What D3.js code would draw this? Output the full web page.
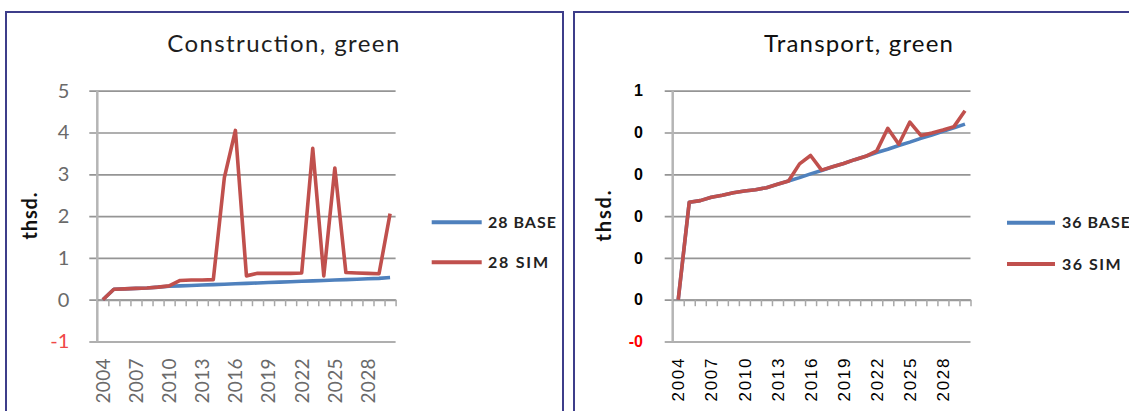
<!DOCTYPE html>
<html>
<head>
<meta charset="utf-8">
<script src="https://cdn.jsdelivr.net/npm/d3@7"></script>
<style>
  body { margin: 0; background: #fff; overflow: hidden; }
  svg { display: block; }
</style>
</head>
<body>
<div id="chart"></div>
<script>
// values
const years = [2004, 2005, 2006, 2007, 2008, 2009, 2010, 2011, 2012, 2013, 2014, 2015, 2016, 2017,
    2018, 2019, 2020, 2021, 2022, 2023, 2024, 2025, 2026, 2027, 2028, 2029, 2030];
const yearLabels = ["2004", "2007", "2010", "2013", "2016", "2019", "2022", "2025", "2028"];

const constructionBase = [0, 0.25, 0.26, 0.27, 0.28, 0.30, 0.32, 0.33, 0.34, 0.35, 0.36, 0.37, 0.38, 0.39,
    0.40, 0.41, 0.42, 0.43, 0.44, 0.45, 0.46, 0.47, 0.48, 0.49, 0.50, 0.51, 0.53];
const constructionSim = [0, 0.25, 0.26, 0.27, 0.28, 0.30, 0.33, 0.46, 0.47, 0.47, 0.48, 2.92, 4.05, 0.57,
    0.63, 0.63, 0.63, 0.63, 0.64, 3.62, 0.57, 3.15, 0.65, 0.64, 0.63, 0.62, 2.06];

const transportBase = [0, 0.233, 0.237, 0.245, 0.25, 0.256, 0.26, 0.263, 0.268, 0.276, 0.284, 0.292, 0.301, 0.309,
    0.318, 0.326, 0.335, 0.343, 0.352, 0.36, 0.369, 0.377, 0.386, 0.394, 0.403, 0.411, 0.42];
const transportSim = [0, 0.233, 0.237, 0.245, 0.25, 0.256, 0.26, 0.263, 0.268, 0.276, 0.284, 0.325, 0.345, 0.31,
    0.318, 0.326, 0.335, 0.343, 0.356, 0.41, 0.372, 0.425, 0.393, 0.399, 0.406, 0.414, 0.452];

const constructionTicks = [-1, 0, 1, 2, 3, 4, 5];
const constructionTickLabels = ["-1", "0", "1", "2", "3", "4", "5"];
const transportTicks = [-0.1, 0, 0.1, 0.2, 0.3, 0.4, 0.5];
const transportTickLabels = ["-0", "0", "0", "0", "0", "0", "1"];

const blue = "#4f81bd", red = "#c0504d";

const panels = [
    {
        title: "Construction, green", base: constructionBase, sim: constructionSim,
        ticks: constructionTicks, tickLabels: constructionTickLabels,
        names: ["28 BASE", "28 SIM"],
        box: [6, 12, 557, 420],
        plot: { x0: 97.3, x1: 395.6, y0: 90.7, y1: 341.5 },
        titleX: 283.3, titleLen: 232, titleColor: "#1e1e1e",
        yTitleX: 36.5, yTitleLen: 47,
        labelFont: "Lato, sans-serif", yLabelSize: 20, yLabelWeight: "normal", yLabelColor: "#6a6a6a",
        negColor: "#f04848", yPad: 20,
        xLabelSize: 19, xLabelWeight: "normal", xLabelColor: "#6a6a6a", xLabelLen: 45,
        legendX: 431.7, legendW: 50, legendTextX: 488, legendY: [222.3, 262.3], legendLen: [68, 60]
    },
    {
        title: "Transport, green", base: transportBase, sim: transportSim,
        ticks: transportTicks, tickLabels: transportTickLabels,
        names: ["36 BASE", "36 SIM"],
        box: [574, 12, 568, 420],
        plot: { x0: 672.7, x1: 970.5, y0: 90.7, y1: 341.5 },
        titleX: 858.5, titleLen: 189, titleColor: "#111",
        yTitleX: 611, yTitleLen: 51,
        labelFont: "'Liberation Sans', Arial, sans-serif", yLabelSize: 16, yLabelWeight: "bold", yLabelColor: "#000",
        negColor: "#ff0000", yPad: 21.7,
        xLabelSize: 17, xLabelWeight: "normal", xLabelColor: "#000", xLabelLen: 43,
        legendX: 1007, legendW: 48, legendTextX: 1062, legendY: [222.7, 264], legendLen: [68, 58.6]
    }
];

const svg = d3.select("#chart")
    .append("svg")
    .attr("width", 1129)
    .attr("height", 411);

panels.forEach(p => drawPanel(p));

function drawPanel(p) {
    const g = svg.append("g");

    // chart area border
    g.append("rect")
        .attr("x", p.box[0]).attr("y", p.box[1])
        .attr("width", p.box[2]).attr("height", p.box[3])
        .attr("fill", "#fff")
        .attr("stroke", "#3d3d8a")
        .attr("stroke-width", 2);

    g.append("text")
        .attr("x", p.titleX).attr("y", 52)
        .attr("text-anchor", "middle")
        .attr("textLength", p.titleLen)
        .attr("lengthAdjust", "spacing")
        .style("font-family", "Lato, sans-serif")
        .style("font-size", "24px")
        .style("fill", p.titleColor)
        .text(p.title);

    const plotW = p.plot.x1 - p.plot.x0;

    const x = d3.scaleBand()
        .domain(years)
        .range([p.plot.x0, p.plot.x1]);
    const xEdge = d3.scaleLinear()
        .domain([0, years.length])
        .range([p.plot.x0, p.plot.x1]);
    const y = d3.scaleLinear()
        .domain([p.ticks[0], p.ticks[p.ticks.length - 1]])
        .range([p.plot.y1, p.plot.y0]);

    // gridlines + value labels
    const yAxis = g.append("g")
        .attr("transform", `translate(${p.plot.x1},0)`)
        .call(d3.axisLeft(y)
            .tickValues(p.ticks)
            .tickSize(plotW + 8)
            .tickPadding(p.yPad)
            .tickFormat((d, i) => p.tickLabels[i]));
    yAxis.select(".domain").remove();
    yAxis.selectAll(".tick line")
        .attr("stroke", "#959595")
        .attr("stroke-width", 1.7);
    yAxis.selectAll(".tick text")
        .style("font-family", p.labelFont)
        .style("font-size", p.yLabelSize + "px")
        .style("font-weight", p.yLabelWeight)
        .attr("fill", d => d < 0 ? p.negColor : p.yLabelColor);

    // vertical axis line
    g.append("line")
        .attr("x1", p.plot.x0).attr("x2", p.plot.x0)
        .attr("y1", y(p.ticks[p.ticks.length - 1])).attr("y2", y(p.ticks[0]))
        .attr("stroke", "#b5b5b5")
        .attr("stroke-width", 2.5);

    // category axis at zero with ticks between categories
    const xAxis = g.append("g")
        .attr("transform", `translate(0,${y(0)})`)
        .call(d3.axisBottom(xEdge)
            .tickValues(d3.range(1, years.length + 1))
            .tickSize(6.5)
            .tickSizeOuter(0)
            .tickFormat(""));
    xAxis.select(".domain")
        .attr("stroke", "#9a9a9a")
        .attr("stroke-width", 2);
    xAxis.selectAll(".tick line")
        .attr("stroke", "#a8a8a8")
        .attr("stroke-width", 1.5);

    // year labels at the low end of the plot
    const labelAxis = g.append("g")
        .attr("transform", `translate(0,${p.plot.y1})`)
        .call(d3.axisBottom(x)
            .tickValues(yearLabels.map(Number))
            .tickSize(0)
            .tickFormat(d => String(d)));
    labelAxis.select(".domain").remove();
    labelAxis.selectAll(".tick text")
        .attr("transform", "rotate(-90)")
        .attr("text-anchor", "end")
        .attr("x", -17)
        .attr("y", 0)
        .attr("dy", "0.36em")
        .attr("textLength", p.xLabelLen)
        .attr("lengthAdjust", "spacing")
        .attr("fill", p.xLabelColor)
        .style("font-family", p.labelFont)
        .style("font-size", p.xLabelSize + "px")
        .style("font-weight", p.xLabelWeight);

    g.append("text")
        .attr("transform", `translate(${p.yTitleX},216) rotate(-90)`)
        .attr("text-anchor", "middle")
        .attr("textLength", p.yTitleLen)
        .attr("lengthAdjust", "spacing")
        .style("font-family", "Lato, sans-serif")
        .style("font-size", "20px")
        .style("font-weight", "bold")
        .style("fill", "#111")
        .text("thsd.");

    const line = d3.line()
        .x((d, i) => x(years[i]) + x.bandwidth() / 2)
        .y(d => y(d));

    [[p.base, blue], [p.sim, red]].forEach(([values, color]) => {
        g.append("path")
            .datum(values)
            .attr("fill", "none")
            .attr("stroke", color)
            .attr("stroke-width", 3.6)
            .attr("stroke-linejoin", "round")
            .attr("d", line);
    });

    // legend
    [blue, red].forEach((color, i) => {
        g.append("line")
            .attr("x1", p.legendX).attr("x2", p.legendX + p.legendW)
            .attr("y1", p.legendY[i]).attr("y2", p.legendY[i])
            .attr("stroke", color)
            .attr("stroke-width", 4);
        g.append("text")
            .attr("x", p.legendTextX).attr("y", p.legendY[i])
            .attr("dy", "0.36em")
            .attr("textLength", p.legendLen[i])
            .attr("lengthAdjust", "spacing")
            .style("font-family", "Lato, sans-serif")
            .style("font-size", "16px")
            .style("font-weight", "bold")
            .style("fill", "#222")
            .text(p.names[i]);
    });
}
</script>
</body>
</html>
